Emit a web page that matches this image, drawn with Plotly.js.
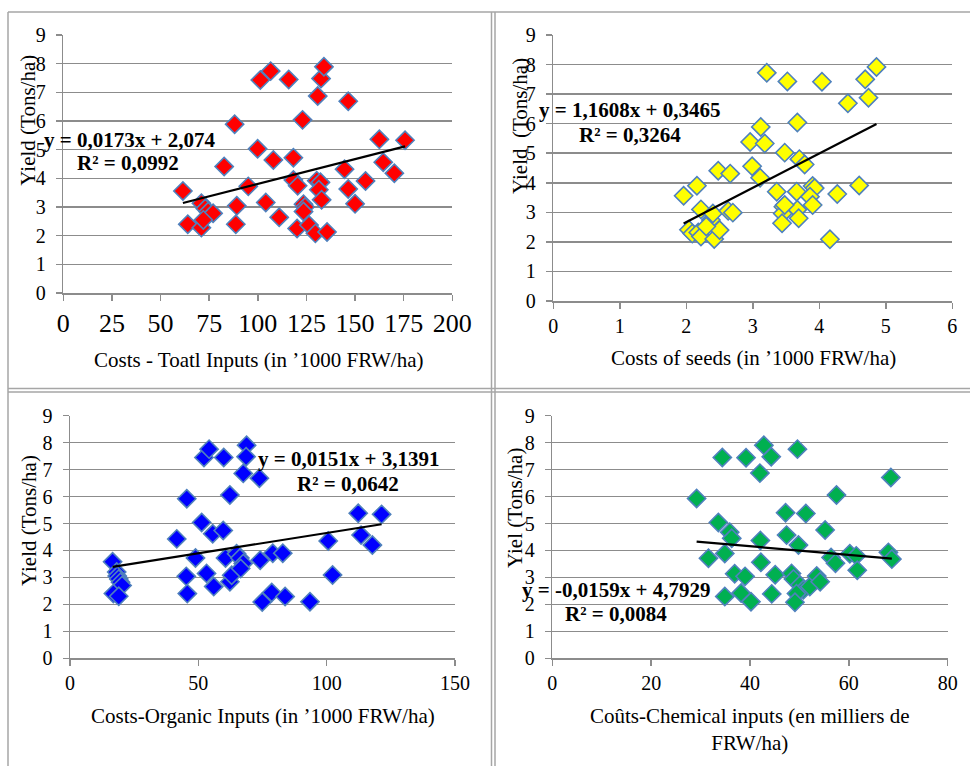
<!DOCTYPE html>
<html>
<head>
<meta charset="utf-8">
<script src="https://cdn.plot.ly/plotly-3.0.1.min.js"></script>
<style>html,body{margin:0;padding:0;background:#fff;}</style>
</head>
<body>
<div id="chart" style="width:970px;height:766px;"></div>
<script>
// ---- Data ----
// Panel 1: Costs - Total Inputs ('000 FRW/ha) vs Yield (Tons/ha)
const totalX = [61.5,64,71,71,73,74.5,77,72,88.1,82.7,89.2,88.7,95.1,101.3,106.6,99.9,108,104.1,111,115.9,123,118.3,118.3,120.5,120.2,123.5,124.3,123.5,126.3,129.6,130.8,132.5,134,130.3,132.2,131.4,132.8,135.6,146.5,144.6,146.5,150,155.4,162.5,164.5,170.2,175.7];
const totalY = [3.56,2.4,2.28,3.13,2.95,2.84,2.78,2.55,5.89,4.41,3.04,2.4,3.72,7.43,7.74,5.03,4.64,3.16,2.64,7.45,6.04,4.72,3.94,3.74,2.25,3.1,3.0,2.84,2.37,2.08,6.87,7.48,7.89,3.92,3.86,3.6,3.25,2.13,6.69,4.32,3.63,3.11,3.91,5.36,4.56,4.18,5.33];

// Panel 2: Costs of seeds
const seedX = [1.96,2.16,2.04,2.09,2.18,2.22,2.22,2.37,2.40,2.42,2.50,2.30,2.48,2.66,2.63,2.70,2.96,3.12,3.18,2.99,3.11,3.21,3.52,3.48,3.36,3.46,3.45,3.44,3.67,3.70,3.78,3.66,3.67,3.69,3.90,3.93,3.86,3.90,4.04,4.16,4.27,4.43,4.60,4.69,4.74,4.86,3.48];
const seedY = [3.56,3.90,2.41,2.28,2.32,2.18,3.10,2.74,2.96,2.10,2.40,2.52,4.41,4.31,3.05,2.99,5.38,5.89,5.33,4.56,4.17,7.72,7.43,5.02,3.70,3.19,2.96,2.63,6.04,4.80,4.62,3.70,3.09,2.80,3.89,3.82,3.53,3.25,7.42,2.09,3.62,6.69,3.91,7.50,6.88,7.92,3.25];

// Panel 3: Costs - Organic inputs
const orgX = [16.6,18.2,18.4,19.0,19.7,20.3,16.9,19.0,41.6,45.5,48.9,45.3,45.7,51.3,52.2,54.2,53.2,55.6,56.0,59.9,59.7,62.3,60.6,62.3,63.0,64.9,66.2,67.5,66.5,68.8,68.6,67.5,73.8,74.1,74.9,78.6,79.0,82.9,83.8,93.5,100.6,102.3,112.3,113.4,117.8,121.4];
const orgY = [3.58,3.20,3.05,2.94,2.82,2.70,2.40,2.30,4.43,5.92,3.72,3.04,2.40,5.04,7.45,7.76,3.15,4.62,2.66,7.45,4.74,6.06,3.72,2.84,3.08,3.88,3.72,3.52,3.33,7.90,7.48,6.86,6.68,3.64,2.09,2.44,3.90,3.90,2.29,2.10,4.35,3.09,5.38,4.57,4.20,5.34];

// Panel 4: Coûts - Chemical inputs
const chemX = [29.2,31.6,33.6,34.4,34.9,34.9,35.9,36.3,36.9,38.2,39.0,39.2,40.2,42.0,42.1,42.2,42.8,44.3,44.4,45.1,47.2,47.4,49.8,48.4,48.8,50.1,50.8,49.4,49.1,49.6,51.3,52.1,53.5,54.2,55.2,56.4,57.3,57.5,60.2,61.5,61.7,68.0,68.7,68.5];
const chemY = [5.93,3.71,5.04,7.45,3.89,2.29,4.68,4.45,3.14,2.42,3.04,7.44,2.10,6.87,4.37,3.56,7.90,7.48,2.39,3.10,5.40,4.57,4.20,3.15,2.94,2.72,2.54,2.40,2.08,7.76,5.37,2.66,3.05,2.84,4.76,3.74,3.53,6.06,3.88,3.80,3.27,3.93,3.68,6.71];

// Trendline coefficients (as printed on the chart)
const slopes = [0.0173, 1.1608, 0.0151, -0.0159];
const intercepts = [2.074, 0.3465, 3.1391, 4.7929];
const eqLabels = ['y = 0,0173x + 2,074','y = 1,1608x + 0,3465','y = 0,0151x + 3,1391','y = -0,0159x + 4,7929'];
const r2Labels = ['R² = 0,0992','R² = 0,3264','R² = 0,0642','R² = 0,0084'];
const xTitles = ['Costs - Toatl Inputs (in ’1000 FRW/ha)','Costs of seeds (in ’1000 FRW/ha)','Costs-Organic Inputs (in ’1000 FRW/ha)','Coûts-Chemical inputs (en milliers de<br>FRW/ha)'];
const yTitles = ['Yield (Tons/ha)','Yield  (Tons/ha)','Yield (Tons/ha)','Yiel (Tons/ha)'];
const xRanges = [[0,200],[0,6],[0,150],[0,80]];
const xDticks = [25,1,50,20];
const fillColors = ['#FF0000','#FFFF00','#0000FF','#00B050'];

// ---- Layout geometry (pixels) ----
const W = 970, H = 766;
const px = v => v / W;
const py = v => 1 - v / H;
const plotBoxes = [
  {l:63.3, r:452.3, t:35, b:293},
  {l:553.3, r:952.3, t:35, b:301},
  {l:70, r:455, t:415.7, b:658.3},
  {l:552.3, r:947.7, t:415.7, b:658.3}
];
const xTickSizes = [26,20,20,20];
const eqPos = [[129,140,127.5,163],[629,110,629.5,135],[348.7,459,348,484],[616,590,615.5,614]];
const xTitlePos = [[258,360],[753,358],[262.7,716],[749.7,729]];
const yTitlePos = [[27.7,120],[520,126],[29,521],[515,508]];

const xs = [totalX, seedX, orgX, chemX];
const ys = [totalY, seedY, orgY, chemY];
const gridCol = '#8c8c8c';
const serif = 'Liberation Serif';

const traces = [];
const layout = {
  width: W, height: H,
  margin: {l:0, r:0, t:0, b:0},
  paper_bgcolor: '#fff', plot_bgcolor: '#fff',
  showlegend: false,
  font: {family: serif, color: '#000'},
  annotations: [],
  shapes: []
};

for (let i = 0; i < 4; i++) {
  const n = i === 0 ? '' : String(i + 1);
  const xa = 'x' + n, ya = 'y' + n;
  traces.push({
    type: 'scatter', mode: 'markers', x: xs[i], y: ys[i], xaxis: xa, yaxis: ya,
    marker: {symbol: 'diamond', size: 14, color: fillColors[i], line: {color: '#4F81BD', width: 1.6}},
    hoverinfo: 'x+y'
  });
  const xmin = Math.min(...xs[i]), xmax = Math.max(...xs[i]);
  traces.push({
    type: 'scatter', mode: 'lines', x: [xmin, xmax],
    y: [slopes[i] * xmin + intercepts[i], slopes[i] * xmax + intercepts[i]],
    xaxis: xa, yaxis: ya, line: {color: '#000', width: 2.2}, hoverinfo: 'skip'
  });
  const b = plotBoxes[i];
  layout['xaxis' + n] = {
    domain: [px(b.l), px(b.r)], anchor: ya, range: xRanges[i], dtick: xDticks[i], tick0: 0,
    showgrid: false, zeroline: false, showline: true, linecolor: gridCol, linewidth: 1.5,
    ticks: 'outside', ticklen: 6, tickwidth: 1.5, tickcolor: gridCol,
    tickfont: {family: serif, size: xTickSizes[i], color: '#000'}, fixedrange: true
  };
  layout['yaxis' + n] = {
    domain: [py(b.b), py(b.t)], anchor: xa, range: [0, 9.0001], dtick: 1, tick0: 0,
    showgrid: true, gridcolor: gridCol, gridwidth: 1.5, zeroline: false,
    showline: true, linecolor: gridCol, linewidth: 1.5,
    ticks: 'outside', ticklen: 6, tickwidth: 1.5, tickcolor: gridCol, ticklabelstandoff: 6,
    tickfont: {family: serif, size: 20, color: '#000'}, fixedrange: true
  };
  const e = eqPos[i];
  layout.annotations.push(
    {xref:'paper', yref:'paper', x: px(e[0]), y: py(e[1]), xanchor:'center', yanchor:'middle', showarrow:false,
     text: '<b>' + eqLabels[i] + '</b>', font:{family: serif, size: 21, color:'#000'}},
    {xref:'paper', yref:'paper', x: px(e[2]), y: py(e[3]), xanchor:'center', yanchor:'middle', showarrow:false,
     text: '<b>' + r2Labels[i] + '</b>', font:{family: serif, size: 21, color:'#000'}},
    {xref:'paper', yref:'paper', x: px(xTitlePos[i][0]), y: py(xTitlePos[i][1]), xanchor:'center', yanchor:'middle', showarrow:false,
     text: xTitles[i], font:{family: serif, size: 21, color:'#000'}},
    {xref:'paper', yref:'paper', x: px(yTitlePos[i][0]), y: py(yTitlePos[i][1]), xanchor:'center', yanchor:'middle', showarrow:false,
     textangle: -90, text: yTitles[i], font:{family: serif, size: 21, color:'#000'}}
  );
}

// Table-like frame borders
const bc = '#a6a6a6';
function hline(y, x0, x1) { layout.shapes.push({type:'line', xref:'paper', yref:'paper', x0: px(x0), x1: px(x1), y0: py(y), y1: py(y), line:{color: bc, width: 1.5}}); }
function vline(x, y0, y1) { layout.shapes.push({type:'line', xref:'paper', yref:'paper', x0: px(x), x1: px(x), y0: py(y0), y1: py(y1), line:{color: bc, width: 1.5}}); }
hline(12, 8, 970);
vline(8, 12, 766);
vline(491.5, 12, 766);
vline(495, 12, 766);
hline(388.5, 8, 970);
hline(392, 8, 970);

Plotly.newPlot('chart', traces, layout, {displayModeBar: false, staticPlot: true});
</script>
</body>
</html>
